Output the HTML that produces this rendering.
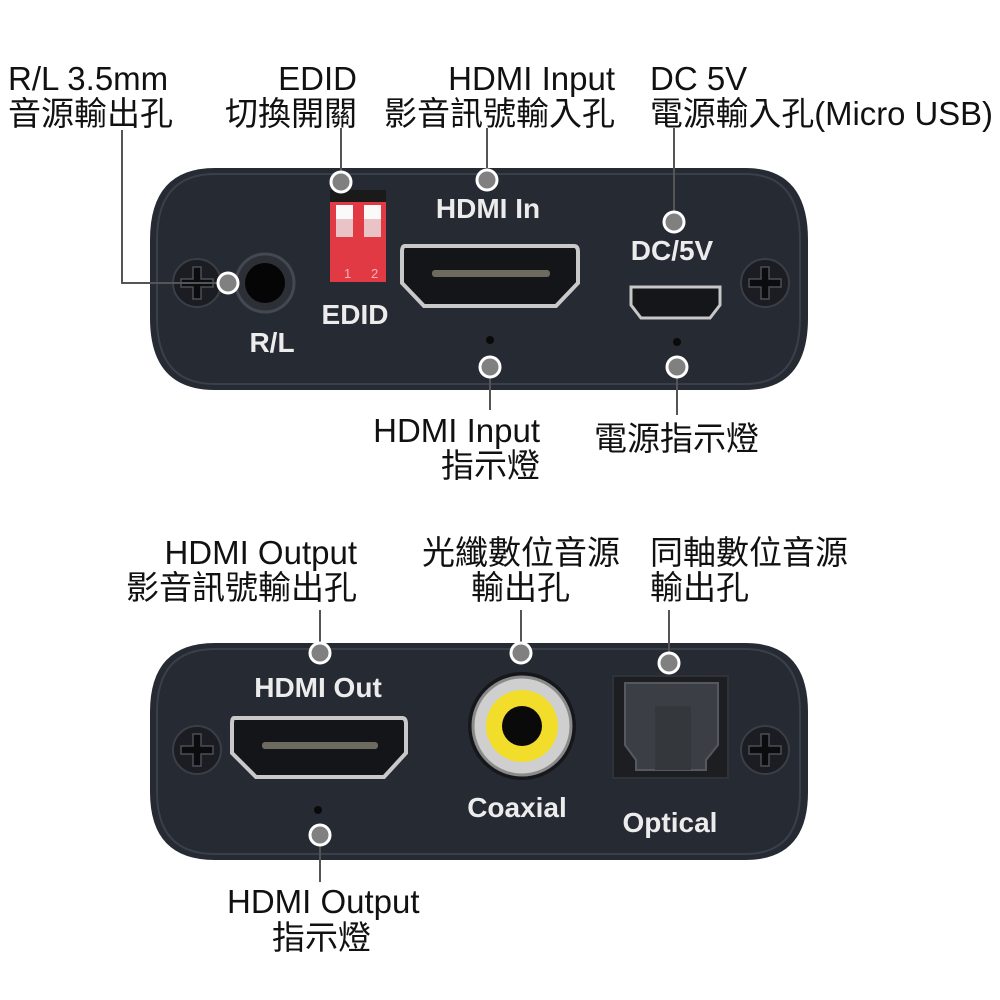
<!DOCTYPE html>
<html><head><meta charset="utf-8"><style>
html,body{margin:0;padding:0;background:#fff;width:1000px;height:1000px;overflow:hidden}
svg text{font-family:"Liberation Sans","Noto Sans CJK TC",sans-serif}
.l{font-size:33px;fill:#111}
.w{font-weight:bold;fill:#ececec;font-size:28px}
</style></head><body>
<svg width="1000" height="1000" viewBox="0 0 1000 1000" xmlns="http://www.w3.org/2000/svg">
<defs>
<g id="screw"><circle r="24" fill="#1b1d22" stroke="#3a3e47" stroke-width="2"/><path d="M-4,-16 h8 v12 h12 v8 h-12 v12 h-8 v-12 h-12 v-8 h12z" fill="#0b0c0e" stroke="#4a4e57" stroke-width="1.5"/></g>
</defs>
<path d="M215,168 H745 Q808,168 808,240 V318 Q808,390 745,390 H215 Q150,390 150,318 V240 Q150,168 215,168Z" fill="#262a33"/>
<path d="M215,174 H745 Q800,174 800,240 V318 Q800,384 745,384 H215 Q157,384 157,318 V240 Q157,174 215,174Z" fill="none" stroke="#3a3f4a" stroke-width="2"/>
<use href="#screw" x="197" y="283"/><use href="#screw" x="765" y="283"/>
<circle cx="265" cy="283" r="29" fill="#2c2f36" stroke="#444851" stroke-width="3"/>
<circle cx="265" cy="283" r="20" fill="#050505"/>
<text x="272" y="352" class="w" text-anchor="middle">R/L</text>
<rect x="330" y="190" width="56" height="92" fill="#e23a45"/>
<rect x="330" y="190" width="56" height="12" fill="#1a1a1a"/>
<rect x="336" y="205" width="17" height="32" fill="#e9c3c6"/><rect x="336" y="205" width="17" height="14" fill="#fafafa"/>
<rect x="364" y="205" width="17" height="32" fill="#e9c3c6"/><rect x="364" y="205" width="17" height="14" fill="#fafafa"/>
<text x="344" y="278" font-size="13" fill="#f5b0b5">1</text><text x="371" y="278" font-size="13" fill="#f5b0b5">2</text>
<text x="355" y="324" class="w" text-anchor="middle">EDID</text>
<text x="488" y="218" class="w" text-anchor="middle">HDMI In</text>
<path d="M405,246 H574 Q578,246 578,252 V283 L556,306 H424 L402,283 V252 Q402,246 405,246Z" fill="#141518" stroke="#c9c9c9" stroke-width="4"/>
<rect x="432" y="270" width="118" height="7" rx="3" fill="#6d6a5f"/>
<circle cx="490" cy="340" r="4" fill="#0a0a0a"/>
<text x="672" y="260" class="w" text-anchor="middle">DC/5V</text>
<path d="M631,287 H720 V305 L710,318 H641 L631,305Z" fill="#151619" stroke="#c7c7c7" stroke-width="3"/>
<circle cx="677" cy="342" r="4" fill="#0a0a0a"/>
<path d="M215,643 H745 Q808,643 808,712 V792 Q808,860 745,860 H215 Q150,860 150,792 V712 Q150,643 215,643Z" fill="#262a33"/>
<path d="M215,649 H745 Q800,649 800,712 V792 Q800,854 745,854 H215 Q157,854 157,792 V712 Q157,649 215,649Z" fill="none" stroke="#3a3f4a" stroke-width="2"/>
<use href="#screw" x="197" y="750"/><use href="#screw" x="765" y="750"/>
<text x="318" y="697" class="w" text-anchor="middle">HDMI Out</text>
<path d="M234,718 H402 Q406,718 406,724 V753 L384,777 H256 L232,753 V724 Q232,718 234,718Z" fill="#141518" stroke="#c9c9c9" stroke-width="4"/>
<rect x="262" y="742" width="116" height="7" rx="3" fill="#6d6a5f"/>
<circle cx="318" cy="810" r="4" fill="#0a0a0a"/>
<circle cx="522" cy="726" r="54" fill="#16171b"/>
<circle cx="522" cy="726" r="49" fill="#cfcfcf" stroke="#8a8a8a" stroke-width="3"/>
<circle cx="522" cy="726" r="36" fill="#f2dd2a"/>
<circle cx="522" cy="726" r="20" fill="#0a0a0a"/>
<text x="517" y="817" class="w" text-anchor="middle">Coaxial</text>
<rect x="613" y="676" width="115" height="102" fill="#1c1e22" stroke="#2f3238" stroke-width="2"/>
<path d="M625,683 H718 V745 L706,760 V770 H636 V760 L625,745Z" fill="#3b3e44" stroke="#55585e" stroke-width="2"/>
<rect x="655" y="706" width="36" height="64" fill="#34373c"/>
<text x="670" y="832" class="w" text-anchor="middle">Optical</text>
<g stroke="#555" stroke-width="2" fill="none">
<path d="M122,130 V283 H228"/>
<path d="M341,128 V182"/>
<path d="M487,128 V180"/>
<path d="M674,128 V222"/>
<path d="M490,367 V410"/>
<path d="M677,367 V415"/>
<path d="M320,610 V653"/>
<path d="M521,610 V653"/>
<path d="M669,610 V663"/>
<path d="M320,835 V882"/>
</g>
<g fill="#808080" stroke="#fff" stroke-width="3">
<circle cx="228" cy="283" r="10"/><circle cx="341" cy="182" r="10"/><circle cx="487" cy="180" r="10"/><circle cx="674" cy="222" r="10"/>
<circle cx="490" cy="367" r="10"/><circle cx="677" cy="367" r="10"/>
<circle cx="320" cy="653" r="10"/><circle cx="521" cy="653" r="10"/><circle cx="669" cy="663" r="10"/><circle cx="320" cy="835" r="10"/>
</g>
<text x="8" y="90" class="l">R/L 3.5mm</text>
<text x="8" y="125" class="l">音源輸出孔</text>
<text x="357" y="90" class="l" text-anchor="end">EDID</text>
<text x="357" y="125" class="l" text-anchor="end">切換開關</text>
<text x="615" y="90" class="l" text-anchor="end">HDMI Input</text>
<text x="615" y="125" class="l" text-anchor="end">影音訊號輸入孔</text>
<text x="650" y="90" class="l">DC 5V</text>
<text x="650" y="125" class="l" textLength="343" lengthAdjust="spacingAndGlyphs">電源輸入孔(Micro USB)</text>
<text x="540" y="442" class="l" text-anchor="end">HDMI Input</text>
<text x="540" y="477" class="l" text-anchor="end">指示燈</text>
<text x="594" y="450" class="l">電源指示燈</text>
<text x="357" y="564" class="l" text-anchor="end">HDMI Output</text>
<text x="357" y="599" class="l" text-anchor="end">影音訊號輸出孔</text>
<text x="620" y="564" class="l" text-anchor="end">光纖數位音源</text>
<text x="570" y="599" class="l" text-anchor="end">輸出孔</text>
<text x="650" y="564" class="l">同軸數位音源</text>
<text x="650" y="599" class="l">輸出孔</text>
<text x="227" y="913" class="l">HDMI Output</text>
<text x="272" y="949" class="l">指示燈</text>
</svg>
</body></html>
